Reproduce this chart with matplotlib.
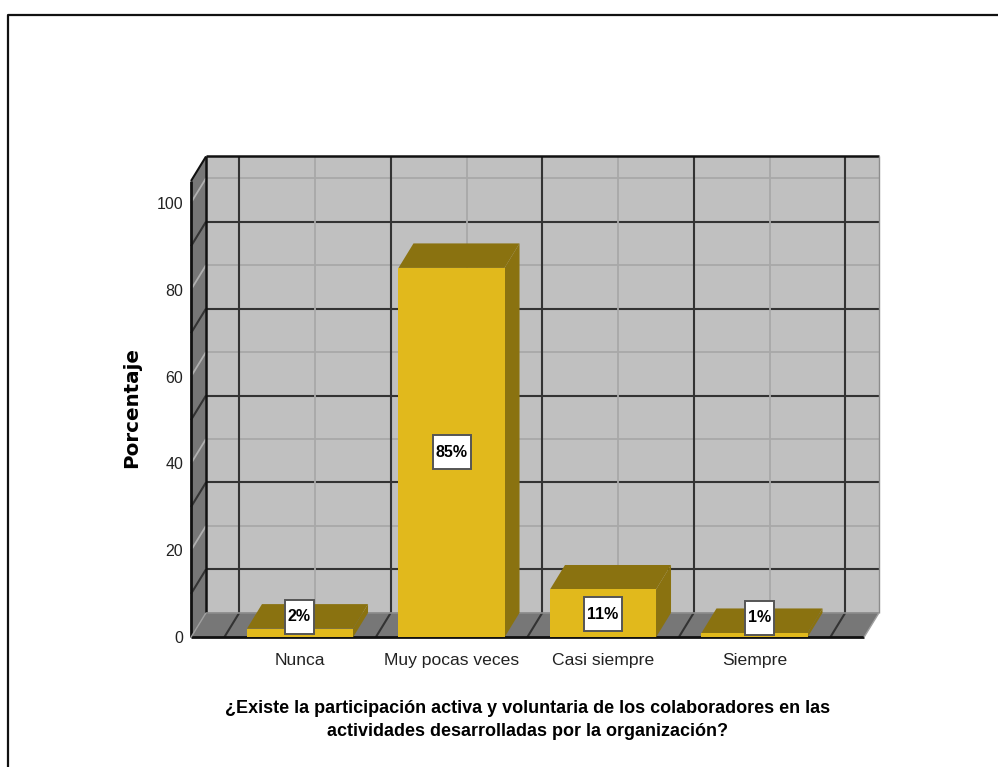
import matplotlib
matplotlib.use("Agg")
import matplotlib.pyplot as plt
from matplotlib.patches import Polygon, Rectangle
from matplotlib.lines import Line2D
from matplotlib.path import Path

categories = ["Nunca", "Muy pocas veces", "Casi siempre", "Siempre"]
values = [2, 85, 11, 1]
bar_labels = ["2%", "85%", "11%", "1%"]
y_ticks = [0, 20, 40, 60, 80, 100]
y_title = "Porcentaje"
x_title = ("¿Existe la participación activa y voluntaria de los colaboradores en las\n"
           "actividades desarrolladas por la organización?")

SANS = "Liberation Sans"

W, H = 998, 767
fig = plt.figure(figsize=(W / 100, H / 100), dpi=100, facecolor="white")
# front plane of the 3-D box in pixels
L, R, B, T = 191, 864, 637.3, 181
ax = fig.add_axes([L / W, 1 - B / H, (R - L) / W, (B - T) / H])
unit_x = 151.5
xlo, xhi = (L - 300) / unit_x, (R - 300) / unit_x
ax.set_xlim(xlo, xhi)
ax.set_ylim(0, 105)
ax.patch.set_visible(False)
for s in ax.spines.values():
    s.set_visible(False)
dx = 15 / unit_x
dy = 24.5 / ((B - T) / 105)

WALL, SHADE, FACE, DARKF = "#c0c0c0", "#777777", "#e1b91c", "#8a7210"
DARKL, LIGHTL = "#333333", "#a8a8a8"


def poly(pts, fc, z):
    ax.add_patch(Polygon(pts, closed=True, fc=fc, ec="none", zorder=z, clip_on=False))


def line(xs, ys, c, lw, z=2):
    ax.add_line(Line2D(xs, ys, color=c, lw=lw, zorder=z, clip_on=False,
                       solid_capstyle="butt"))


poly([(xlo + dx, dy), (xhi + dx, dy), (xhi + dx, 105 + dy), (xlo + dx, 105 + dy)], WALL, 1)
poly([(xlo, 0), (xlo + dx, dy), (xlo + dx, 105 + dy), (xlo, 105)], SHADE, 1)
poly([(xlo, 0), (xhi, 0), (xhi + dx, dy), (xlo + dx, dy)], SHADE, 1)

# horizontal grid on back and side walls
for v in range(0, 101, 10):
    major = v % 20 == 10
    c, lw = (DARKL, 1.5) if major else (LIGHTL, 1.3)
    if v > 0:
        line([xlo + dx, xhi + dx], [v + dy, v + dy], c, lw)
        line([xlo, xlo + dx], [v, v + dy], c if major else "#b0b0b0", lw)
# vertical grid on back wall and floor
for i in range(len(categories)):
    line([i + dx, i + dx], [dy, 105 + dy], LIGHTL, 1.3)
for i in range(len(categories) + 1):
    p = i - 0.5
    line([p + dx, p + dx], [dy, 105 + dy], DARKL, 1.5)
    line([p, p + dx], [0, dy], DARKL, 1.5)

# box outline
line([xlo + dx, xhi + dx], [105 + dy, 105 + dy], "#111111", 1.8, 3)
line([xlo + dx, xlo + dx], [dy, 105 + dy], "#111111", 1.8, 3)
line([xlo, xlo], [0, 105], "#111111", 2, 3)
line([xlo, xlo + dx], [105, 105 + dy], "#111111", 1.5, 3)
line([xlo, xhi], [0, 0], "#111111", 2, 3)
line([xlo + dx, xhi + dx], [dy, dy], "#8c8c8c", 1.2, 3)
line([xhi + dx, xhi + dx], [dy, 105 + dy], "#8c8c8c", 1.0, 3)
line([xhi, xhi + dx], [0, dy], "#a0a0a0", 1, 3)
line([xlo, xlo + dx], [0, dy], "#a0a0a0", 1, 3)

# bars
hw = 0.35
for i, v in enumerate(values):
    x0, x1 = i - hw, i + hw
    poly([(x1, 0), (x1 + dx, dy), (x1 + dx, v + dy), (x1, v)], DARKF, 5)
    poly([(x0, v), (x1, v), (x1 + dx, v + dy), (x0 + dx, v + dy)], DARKF, 5)
    ax.add_patch(Rectangle((x0, 0), 2 * hw, v, fc=FACE, ec="none", zorder=6))


def label_box(x0, y0, w, h, mutation_size):
    """White tag about 34 px tall with 3 px side padding."""
    cy = y0 + h / 2
    xa, xb = x0 - 3, x0 + w + 3
    ya, yb = cy - 17, cy + 17
    return Path([(xa, ya), (xb, ya), (xb, yb), (xa, yb), (xa, ya)], closed=True)


# value labels
offsets = [(-1, 16), (0, 0.5), (0, -1), (5, 17.5)]
anchor = [v / 2 for v in values]
for i, lab in enumerate(bar_labels):
    ax.annotate(lab, xy=(i, anchor[i]), xytext=offsets[i], textcoords="offset pixels",
                ha="center", va="center", fontsize=11.5, fontweight="bold",
                family=SANS, color="black", zorder=8,
                bbox=dict(boxstyle=label_box, fc="white", ec="#555555", lw=1.4))

ax.set_xticks(range(len(categories)))
ax.set_xticklabels(categories, family=SANS, fontsize=12.6, color="#222222")
ax.set_yticks(y_ticks)
ax.set_yticklabels([str(t) for t in y_ticks], family=SANS, fontsize=11.5, color="#222222")
ax.tick_params(axis="both", length=0)
ax.tick_params(axis="x", pad=11.5)
ax.tick_params(axis="y", pad=5.5)

fig.text(131.5 / W, 1 - 407.5 / H, y_title, rotation=90, ha="center", va="center",
         fontsize=14.3, fontweight="bold", family="DejaVu Sans", color="black")
fig.text(527.5 / W, 1 - 720 / H, x_title, ha="center", va="center", fontsize=13,
         fontweight="bold", family=SANS, linespacing=1.4, color="black")

# picture border
fig.add_artist(Line2D([8 / W, 8 / W, 1], [0, 1 - 14.5 / H, 1 - 14.5 / H],
                      color="#111111", lw=1.6, transform=fig.transFigure))

fig.savefig("out.png", dpi=100, facecolor="white")
